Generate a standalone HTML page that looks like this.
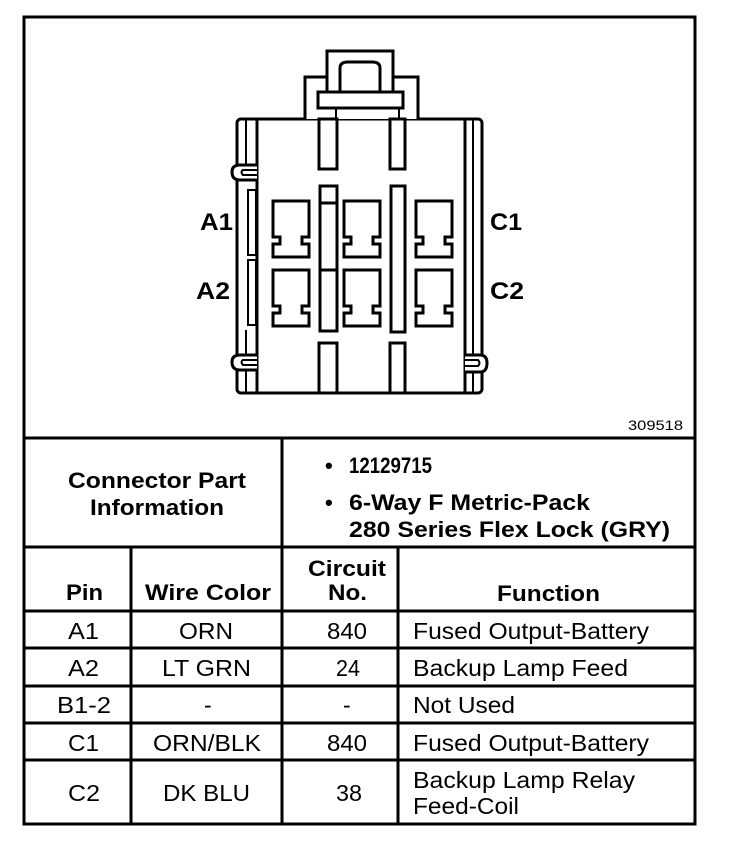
<!DOCTYPE html>
<html><head><meta charset="utf-8"><style>
html,body{margin:0;padding:0;background:#fff;}
svg{display:block;}
text{font-family:"Liberation Sans",Arial,sans-serif;fill:#000;}
.b{font-weight:bold;}
</style></head><body>
<svg width="736" height="854" viewBox="0 0 736 854" xmlns="http://www.w3.org/2000/svg">
<g fill="none" stroke="#000" stroke-width="3">
<rect x="24" y="17" width="671" height="807"/>
<line x1="24" y1="438" x2="695" y2="438"/>
<line x1="24" y1="547" x2="695" y2="547"/>
<line x1="282" y1="438" x2="282" y2="824"/>
<line x1="131" y1="547" x2="131" y2="824"/>
<line x1="398" y1="547" x2="398" y2="824"/>
<line x1="24" y1="611" x2="695" y2="611"/>
<line x1="24" y1="648" x2="695" y2="648"/>
<line x1="24" y1="686" x2="695" y2="686"/>
<line x1="24" y1="723" x2="695" y2="723"/>
<line x1="24" y1="760" x2="695" y2="760"/>

<rect x="237" y="119" width="245" height="274" rx="4"/>
<line x1="257" y1="119" x2="257" y2="393"/>
<line x1="465" y1="119" x2="465" y2="393"/>
<line x1="473" y1="119" x2="473" y2="393" stroke-width="2"/>
<line x1="246" y1="119" x2="246" y2="165" stroke-width="2"/>
<line x1="246" y1="370" x2="246" y2="393" stroke-width="2"/>
<rect x="248" y="190" width="8" height="65" stroke-width="2"/>
<rect x="248" y="260" width="8" height="65" stroke-width="2"/>
<line x1="246" y1="330" x2="246" y2="355" stroke-width="2"/>
<path d="M257 165 H240 Q232 165 232 172 Q232 180 240 180 H257" fill="#fff"/>
<path d="M257 170 H243 Q240 172 243 175 H257" stroke-width="2"/>
<path d="M257 355 H240 Q232 355 232 362 Q232 370 240 370 H257" fill="#fff"/>
<path d="M257 360 H243 Q240 362 243 365 H257" stroke-width="2"/>
<path d="M465 355 H480 Q487 355 487 363 Q487 372 480 372 H465" fill="#fff"/>
<path d="M465 360 H478 Q481 363 478 366 H465" stroke-width="2"/>

<path d="M305 119 V77 H418 V119" fill="#fff"/>
<rect x="327" y="51" width="66" height="41" fill="#fff"/>
<path d="M340 92 V68 Q340 62 348 62 H372 Q380 62 380 68 V92"/>
<rect x="318" y="92" width="85" height="16" fill="#fff"/>
<line x1="336" y1="108" x2="336" y2="119" stroke-width="2"/>
<line x1="399" y1="108" x2="399" y2="119" stroke-width="2"/>

<rect x="319" y="119" width="18" height="50"/>
<rect x="390" y="119" width="15" height="50"/>
<rect x="319" y="343" width="18" height="50"/>
<rect x="390" y="343" width="15" height="50"/>
<rect x="320" y="186" width="17" height="145"/>
<line x1="320" y1="203" x2="337" y2="203"/>
<line x1="320" y1="270" x2="337" y2="270"/>
<rect x="391" y="186" width="14" height="146"/>

<g id="cav">
<path d="M273 201 H309 V237 H302 V244 H309 V257 H273 V244 H280 V237 H273 Z"/>
</g>
<use href="#cav" x="71"/>
<use href="#cav" x="143"/>
<use href="#cav" y="69"/>
<use href="#cav" x="71" y="69"/>
<use href="#cav" x="143" y="69"/>
</g>

<g lengthAdjust="spacingAndGlyphs">
<text class="b" x="200" y="230" font-size="24" textLength="33" lengthAdjust="spacingAndGlyphs">A1</text>
<text class="b" x="196" y="299" font-size="24" textLength="34" lengthAdjust="spacingAndGlyphs">A2</text>
<text class="b" x="490" y="230" font-size="24" textLength="32" lengthAdjust="spacingAndGlyphs">C1</text>
<text class="b" x="490" y="299" font-size="24" textLength="34" lengthAdjust="spacingAndGlyphs">C2</text>
<text x="628" y="430" font-size="14" textLength="55" lengthAdjust="spacingAndGlyphs">309518</text>

<text class="b" x="68" y="488" font-size="22" textLength="178" lengthAdjust="spacingAndGlyphs">Connector Part</text>
<text class="b" x="90" y="515" font-size="22" textLength="134" lengthAdjust="spacingAndGlyphs">Information</text>
<text class="b" x="325" y="473" font-size="22">•</text>
<text class="b" x="349" y="473" font-size="22" textLength="83" lengthAdjust="spacingAndGlyphs">12129715</text>
<text class="b" x="325" y="510" font-size="22">•</text>
<text class="b" x="349" y="510" font-size="22" textLength="241" lengthAdjust="spacingAndGlyphs">6-Way F Metric-Pack</text>
<text class="b" x="349" y="537" font-size="22" textLength="321" lengthAdjust="spacingAndGlyphs">280 Series Flex Lock (GRY)</text>

<text class="b" x="66" y="600" font-size="22" textLength="37" lengthAdjust="spacingAndGlyphs">Pin</text>
<text class="b" x="145" y="600" font-size="22" textLength="126" lengthAdjust="spacingAndGlyphs">Wire Color</text>
<text class="b" x="308" y="576" font-size="22" textLength="78" lengthAdjust="spacingAndGlyphs">Circuit</text>
<text class="b" x="328" y="600" font-size="22" textLength="39" lengthAdjust="spacingAndGlyphs">No.</text>
<text class="b" x="497" y="601" font-size="22" textLength="103" lengthAdjust="spacingAndGlyphs">Function</text>
</g>

<g font-size="23">
<text x="68" y="639" textLength="31" lengthAdjust="spacingAndGlyphs">A1</text>
<text x="179" y="639" textLength="54" lengthAdjust="spacingAndGlyphs">ORN</text>
<text x="327" y="639" textLength="40" lengthAdjust="spacingAndGlyphs">840</text>
<text x="68" y="676" textLength="31" lengthAdjust="spacingAndGlyphs">A2</text>
<text x="162" y="676" textLength="89" lengthAdjust="spacingAndGlyphs">LT GRN</text>
<text x="336" y="676" textLength="24" lengthAdjust="spacingAndGlyphs">24</text>
<text x="57" y="713" textLength="54" lengthAdjust="spacingAndGlyphs">B1-2</text>
<text x="204" y="713">-</text>
<text x="343" y="713">-</text>
<text x="68" y="751" textLength="31" lengthAdjust="spacingAndGlyphs">C1</text>
<text x="153" y="751" textLength="108" lengthAdjust="spacingAndGlyphs">ORN/BLK</text>
<text x="327" y="751" textLength="40" lengthAdjust="spacingAndGlyphs">840</text>
<text x="68" y="801" textLength="32" lengthAdjust="spacingAndGlyphs">C2</text>
<text x="163" y="801" textLength="87" lengthAdjust="spacingAndGlyphs">DK BLU</text>
<text x="336" y="801" textLength="26" lengthAdjust="spacingAndGlyphs">38</text>
<text x="413" y="639" textLength="236" lengthAdjust="spacingAndGlyphs">Fused Output-Battery</text>
<text x="413" y="676" textLength="215" lengthAdjust="spacingAndGlyphs">Backup Lamp Feed</text>
<text x="413" y="713" textLength="102" lengthAdjust="spacingAndGlyphs">Not Used</text>
<text x="413" y="751" textLength="236" lengthAdjust="spacingAndGlyphs">Fused Output-Battery</text>
<text x="413" y="788" textLength="222" lengthAdjust="spacingAndGlyphs">Backup Lamp Relay</text>
<text x="413" y="814" textLength="106" lengthAdjust="spacingAndGlyphs">Feed-Coil</text>
</g>
</svg>
</body></html>
